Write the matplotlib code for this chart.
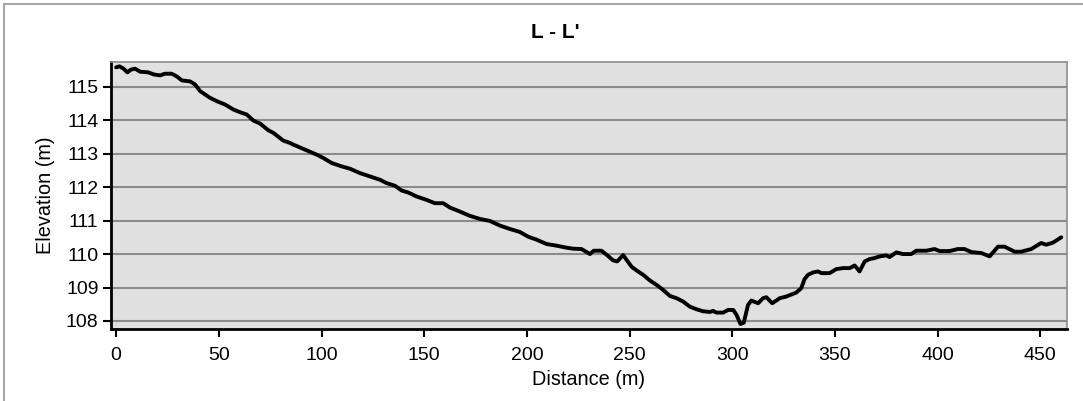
import matplotlib
matplotlib.use("Agg")
import matplotlib.pyplot as plt
from matplotlib.lines import Line2D

plt.rcParams["font.family"] = ["Liberation Sans", "DejaVu Sans"]

# -----------------------------
# Profile data
# -----------------------------
distance = [
    0, 1.6, 3.6, 5.5, 7.1, 9.2, 11.7, 15.7, 18.2, 21.4, 23.8, 27.1, 29.5, 32.0,
    36.0, 38.4, 40.9, 43.3, 45.7, 49.0, 53.0, 57.1, 60.3, 63.6, 66.8, 70.1,
    74.1, 76.6, 81.4, 84.7, 86.3, 92.0, 97.7, 100.9, 105.0, 109.8, 113.9,
    118.7, 123.6, 128.5, 131.7, 135.8, 139.0, 142.2, 146.3, 151.1, 155.2,
    159.3, 162.5, 167.4, 172.3, 177.1, 182.0, 186.9, 191.7, 196.6, 200.6,
    204.7, 209.6, 214.5, 219.3, 222.5, 226.6, 230.7, 232.6, 236.3, 238.8,
    242.0, 244.0, 246.9, 248.5, 251.0, 253.4, 256.6, 259.9, 263.1, 266.3,
    269.6, 272.9, 276.1, 279.3, 282.6, 285.8, 289.1, 290.7, 292.3, 295.6,
    298.0, 300.5, 302.1, 304.0, 305.6, 307.7, 309.3, 312.6, 315.0, 316.6,
    319.5, 323.1, 326.3, 329.6, 331.2, 333.6, 335.2, 336.9, 339.3, 341.8,
    343.4, 347.4, 350.7, 353.9, 357.2, 359.6, 362.0, 364.5, 366.9, 369.3,
    371.8, 375.0, 376.6, 379.9, 383.1, 387.2, 389.6, 394.5, 398.5, 401.0,
    405.8, 409.9, 413.1, 416.4, 421.3, 425.3, 429.4, 432.6, 437.5, 440.7,
    445.6, 450.4, 452.9, 456.1, 460.2,
]
elevation = [
    115.58, 115.61, 115.54, 115.43, 115.51, 115.54, 115.45, 115.43, 115.37,
    115.34, 115.39, 115.39, 115.31, 115.19, 115.16, 115.07, 114.87, 114.77,
    114.67, 114.57, 114.47, 114.32, 114.24, 114.17, 113.99, 113.90, 113.70,
    113.62, 113.39, 113.32, 113.27, 113.12, 112.97, 112.87, 112.72, 112.62,
    112.55, 112.42, 112.32, 112.22, 112.12, 112.04, 111.90, 111.84, 111.72,
    111.62, 111.52, 111.52, 111.39, 111.27, 111.14, 111.05, 110.99, 110.85,
    110.75, 110.66, 110.52, 110.43, 110.30, 110.25, 110.19, 110.16, 110.15,
    110.00, 110.10, 110.10, 109.98, 109.81, 109.78, 109.97, 109.83, 109.62,
    109.51, 109.38, 109.21, 109.08, 108.93, 108.75, 108.68, 108.58, 108.43,
    108.35, 108.29, 108.27, 108.30, 108.25, 108.25, 108.33, 108.33, 108.18,
    107.91, 107.95, 108.48, 108.61, 108.53, 108.68, 108.71, 108.53, 108.68,
    108.73, 108.81, 108.85, 108.98, 109.25, 109.38, 109.45, 109.48, 109.43,
    109.43, 109.55, 109.58, 109.58, 109.66, 109.48, 109.78, 109.85, 109.88,
    109.93, 109.96, 109.91, 110.05, 110.00, 110.00, 110.10, 110.10, 110.15,
    110.09, 110.09, 110.15, 110.15, 110.06, 110.03, 109.93, 110.22, 110.22,
    110.07, 110.07, 110.15, 110.33, 110.28, 110.34, 110.50,
]

x_ticks = [0, 50, 100, 150, 200, 250, 300, 350, 400, 450]
y_ticks = [108, 109, 110, 111, 112, 113, 114, 115]
title = "L - L'"

# -----------------------------
# Figure
# -----------------------------
W, H = 1083, 401
fig = plt.figure(figsize=(W / 100, H / 100), dpi=100)
ax = fig.add_axes([111 / W, 1 - 329 / H, (1067 - 111) / W, (329 - 62) / H])

ax.set_facecolor("#e0e0e0")
for y in y_ticks:
    ax.axhline(y, color="#8c8c8c", linewidth=1.5, zorder=1)

ax.plot(distance, elevation, color="black", linewidth=2.8,
        solid_joinstyle="round", solid_capstyle="round", zorder=3)

ax.set_xlim(-2.5, 463)
ax.set_ylim(107.76, 115.74)
ax.set_xticks(x_ticks)
ax.set_yticks(y_ticks)

ax.spines["left"].set_linewidth(2)
ax.spines["bottom"].set_linewidth(2)
ax.spines["top"].set_color("#8c8c8c")
ax.spines["right"].set_color("#8c8c8c")
ax.spines["top"].set_linewidth(1.2)
ax.spines["right"].set_linewidth(1.2)

ax.tick_params(axis="y", length=6, width=1.5, labelsize=14, pad=3)
ax.tick_params(axis="x", length=6, width=1.5, labelsize=14, pad=7)

ax.set_xlabel("Distance (m)", fontsize=14.3, labelpad=4)
ax.set_ylabel("Elevation (m)", fontsize=14.3, labelpad=8)

fig.text(555 / W, 1 - 32 / H, title, ha="center", va="center",
         fontsize=15, fontweight="bold")

# light frame around the chart
fig.add_artist(Line2D([4 / W, 4 / W], [0, 1 - 4 / H], color="#a8a8a8",
                      linewidth=1.5))
fig.add_artist(Line2D([4 / W, 1], [1 - 4 / H, 1 - 4 / H], color="#a8a8a8",
                      linewidth=1.5))

fig.savefig("out.png", dpi=100)
